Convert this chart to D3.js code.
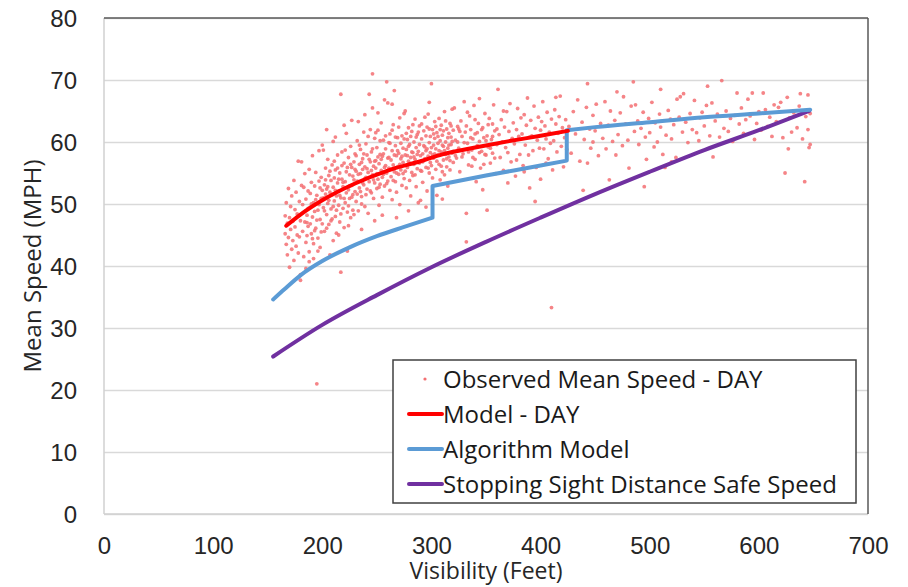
<!DOCTYPE html>
<html>
<head>
<meta charset="utf-8">
<script src="https://cdn.jsdelivr.net/npm/d3@7"></script>
<style>
  html, body { margin: 0; padding: 0; background: #fff; }
  svg { display: block; font-family: "Open Sans", Lato, sans-serif; }
</style>
</head>
<body>
<svg id="chart" width="908" height="587"></svg>
<script>
// ---------- data ----------
const xTicks = [0, 100, 200, 300, 400, 500, 600, 700];
const yTicks = [0, 10, 20, 30, 40, 50, 60, 70, 80];

const legendLabels = ["Observed Mean Speed - DAY", "Model - DAY", "Algorithm Model", "Stopping Sight Distance Safe Speed"];

// Model - DAY  [visibility ft, mph]
const modelDay = [[167,46.5],[180,48.3],[200,50.6],[230,53.3],[260,55.4],[290,56.9],[310,58.0],[340,59.1],[370,60.1],[400,61.0],[425,61.8]];

// Algorithm Model (three pieces joined by vertical jumps)
const algoSeg1 = [[155,34.6],[165,36.2],[180,38.5],[200,40.8],[225,43.0],[250,44.8],[275,46.3],[301,47.8]];
const algoSeg2 = [[301,52.9],[350,54.6],[400,56.2],[424,57.0]];
const algoSeg3 = [[424,61.9],[450,62.4],[500,63.2],[550,64.0],[600,64.6],[647,65.2]];

// Stopping Sight Distance Safe Speed
const ssdSpeed = [[155,25.4],[200,30.5],[250,35.3],[300,39.8],[350,43.9],[400,47.8],[450,51.6],[500,55.2],[550,58.7],[600,61.9],[646,65.0]];

// Observed Mean Speed - DAY
const observed = [
[166,45.2],[166,48.1],[167,43.5],[167,50.2],[168,41.8],[168,46.9],[169,44.6],[169,52.5],[170,47.8],[170,39.8],[171,45.9],[171,49.6],[172,42.7],[172,51.3],[173,44.1],[173,47.2],[174,53.8],[174,40.9],[175,46.3],[175,49.1],[176,43.2],[176,51.9],[177,45.0],[177,48.4],[178,56.9],[178,42.1],[179,50.4],[179,44.7],[180,47.3],[180,38.6],[181,56.8],[181,53.0],[180,37.7],
[182,45.6],[182,49.9],[183,41.5],[183,52.7],[184,47.1],[184,54.9],[185,43.8],[185,50.8],[186,48.2],[186,44.9],[187,52.1],[187,46.4],[188,42.3],[188,55.6],[189,49.5],[189,51.7],[190,45.2],[190,53.5],[191,47.9],[191,57.8],[192,50.2],[192,43.6],[193,52.9],[193,48.8],[194,46.1],[194,55.1],[195,51.4],[195,21.0],[196,49.0],[196,44.5],[197,53.7],[197,58.6],[198,47.5],[198,43.0],[199,50.9],[199,54.3],[200,52.2],[200,46.8],[200,59.5],[185,39.6],[188,40.7],[192,41.2],[196,42.4],
[201,58.7],[201,49.4],[202,53.1],[202,45.6],[203,51.6],[203,55.8],[204,48.3],[204,52.4],[205,50.1],[205,57.2],[206,54.6],[206,46.7],[207,41.8],[207,51.9],[208,53.8],[208,49.2],[209,56.3],[209,47.6],[210,52.7],[210,60.1],[211,50.5],[211,54.2],[212,48.0],[212,55.5],[213,51.3],[213,45.3],[214,53.4],[214,57.9],[215,49.8],[215,52.1],[216,55.0],[216,47.1],[217,67.7],[217,39.0],[217,51.0],[218,54.0],[218,58.4],[219,49.3],[219,52.8],[220,56.6],[220,46.2],[221,53.6],[221,50.2],[222,55.2],[222,61.4],[223,48.7],[223,42.4],[224,52.3],[224,57.5],[225,54.7],[225,50.9],[226,59.3],[226,47.8],[227,53.0],[227,55.9],[228,51.5],[228,49.0],[229,56.8],[229,53.9],[230,52.0],[230,58.1],[204,62.0],[212,60.8],[220,62.7],[227,63.5],[210,44.1],[215,45.0],[224,46.5],
[231,55.3],[231,50.4],[232,60.2],[232,53.7],[233,63.3],[233,48.9],[234,56.4],[234,52.6],[235,54.9],[235,58.8],[236,51.2],[236,50.0],[237,57.3],[237,55.6],[238,53.1],[238,61.6],[239,49.6],[239,56.0],[240,54.3],[240,59.7],[241,52.4],[241,57.9],[242,55.1],[242,48.5],[243,67.7],[243,53.6],[244,62.0],[244,56.8],[245,51.8],[245,58.4],[246,71.0],[246,54.7],[246,65.5],[247,56.1],[247,50.9],[248,60.6],[248,53.4],[249,57.0],[249,55.8],[250,52.5],[250,59.1],[251,54.0],[251,61.9],[252,56.5],[252,49.8],[253,58.0],[253,53.2],[254,55.4],[254,63.1],[255,51.1],[255,57.7],[256,54.8],[256,60.3],[257,66.8],[257,52.9],[258,56.2],[258,58.9],[259,69.7],[259,55.0],[260,66.3],[260,53.7],[260,57.4],[236,45.9],[248,47.3],[255,48.2],[239,64.4],[251,64.7],
[261,59.9],[261,55.8],[262,52.2],[262,61.3],[263,57.1],[263,54.4],[264,58.6],[264,50.7],[265,56.3],[265,62.8],[266,68.3],[266,55.2],[267,53.6],[267,59.4],[268,57.8],[268,51.9],[269,56.0],[269,60.7],[270,54.8],[270,58.2],[271,63.9],[271,49.9],[272,57.3],[272,55.5],[273,53.0],[273,61.0],[274,59.0],[274,56.7],[275,54.1],[275,64.6],[276,65.0],[276,57.9],[277,52.6],[277,58.8],[278,60.4],[278,55.9],[279,56.9],[279,62.3],[280,53.8],[280,59.6],[281,57.5],[281,51.3],[282,61.7],[282,55.1],[283,58.3],[283,54.6],[284,60.0],[284,56.4],[285,63.7],[285,57.2],[286,52.8],[286,59.1],[287,55.7],[287,61.2],[288,58.5],[288,50.2],[289,56.6],[289,62.6],[290,50.6],[290,57.8],[268,47.8],[279,48.9],[264,66.1],
[291,60.5],[291,55.3],[292,58.1],[292,53.5],[293,61.8],[293,57.0],[294,59.2],[294,64.0],[295,55.9],[295,58.6],[296,62.4],[296,52.1],[297,64.5],[297,57.7],[298,59.9],[298,55.0],[299,60.9],[299,58.3],[300,69.4],[300,56.2],[301,62.0],[301,54.2],[302,59.5],[302,57.4],[303,60.6],[303,63.3],[304,55.6],[304,58.9],[305,61.5],[305,51.4],[306,57.9],[306,59.8],[307,63.8],[307,56.4],[308,60.2],[308,53.9],[309,58.4],[309,62.7],[310,55.2],[310,61.1],[311,59.3],[311,57.1],[312,64.9],[312,54.7],[313,60.0],[313,58.0],[314,62.1],[314,56.0],[315,59.0],[315,52.9],[316,61.4],[316,57.6],[317,63.0],[317,55.5],[318,59.6],[318,60.8],[319,58.2],[319,65.3],[320,56.7],[320,61.9],[295,49.5],[310,50.8],[298,66.4],
[321,65.5],[322,60.3],[323,57.4],[324,62.5],[325,59.0],[326,55.2],[327,63.4],[328,60.9],[329,58.1],[330,66.5],[331,61.6],[332,43.9],[332,48.5],[333,59.8],[334,56.3],[335,64.2],[336,62.0],[337,58.7],[338,60.5],[339,65.9],[340,57.2],[340,61.3],[341,53.6],[342,59.4],[343,63.0],[344,60.1],[345,55.8],[346,58.5],[347,52.3],[347,62.3],[348,60.7],[349,64.6],[350,57.9],[351,49.0],[351,61.0],[352,59.2],[353,63.8],[354,56.6],[355,60.4],[356,58.2],[357,66.0],[358,61.8],[359,54.9],[360,59.6],[325,62.1],[333,64.8],[337,56.1],[344,67.0],[349,58.0],[356,62.9],
[361,68.5],[362,61.2],[363,57.5],[364,63.6],[365,60.0],[366,55.4],[367,62.4],[368,59.1],[369,64.9],[370,58.3],[371,61.7],[372,66.2],[373,56.8],[374,60.6],[375,63.1],[376,59.7],[377,54.5],[378,62.0],[379,65.4],[380,60.9],[381,58.0],[382,63.9],[383,61.3],[384,56.2],[385,64.4],[386,59.5],[387,62.7],[388,67.1],[389,57.9],[390,52.6],[390,60.8],[391,63.5],[392,61.0],[393,58.6],[394,65.8],[395,62.2],[396,55.9],[397,60.3],[398,64.0],[399,59.0],[400,54.0],[400,61.9],[401,63.3],[402,66.5],[403,58.9],[404,62.6],[405,60.5],[406,64.8],[407,57.3],[408,61.6],[409,59.8],[410,33.3],[410,63.7],[411,55.5],[412,60.2],[413,65.2],[414,62.9],[415,58.4],[416,61.4],[417,64.1],[418,67.4],[419,59.3],[420,62.3],[421,56.0],[422,60.7],[423,63.6],[424,58.8],[414,67.2],[370,53.4],[385,55.2],[405,56.6],[395,50.4],[366,65.0],[378,57.1],
[426,62.5],[428,58.2],[430,64.9],[432,61.3],[434,66.8],[436,56.9],[438,63.2],[439,52.2],[440,60.4],[442,65.6],[443,69.4],[443,56.6],[445,62.1],[446,59.0],[448,64.3],[450,61.8],[451,66.1],[453,57.8],[455,63.0],[457,60.6],[459,66.5],[460,58.9],[462,62.7],[464,65.0],[466,60.1],[468,63.5],[469,57.9],[471,61.2],[473,64.7],[475,59.4],[476,67.3],[478,62.9],[480,60.3],[481,55.8],[483,65.8],[485,69.7],[486,61.7],[487,66.0],[489,63.4],[490,59.6],[492,62.2],[494,64.8],[496,60.8],[497,57.2],[499,63.8],[500,61.5],[502,66.4],[504,59.2],[505,63.1],[507,60.0],[509,64.5],[510,62.4],[512,58.0],[514,55.9],[515,61.1],[517,65.1],[519,63.7],[520,60.5],[522,62.8],[524,57.5],[525,66.9],[527,64.0],[528,67.3],[530,61.6],[531,67.8],[533,63.2],[535,59.9],[537,64.6],[539,62.0],[463,53.9],[495,52.8],[520,56.8],[470,68.1],[510,68.5],[448,60.0],
[541,66.7],[543,61.5],[545,60.2],[546,63.9],[548,64.8],[550,62.6],[552,65.9],[553,69.0],[555,61.0],[557,66.3],[558,57.6],[560,63.4],[562,64.5],[564,60.8],[566,69.9],[568,62.2],[570,65.0],[572,61.7],[574,63.8],[576,60.1],[578,64.3],[580,67.9],[582,62.9],[584,65.5],[586,61.4],[588,63.6],[590,66.9],[592,64.2],[594,67.9],[596,60.4],[598,63.0],[600,64.9],[602,61.9],[604,67.9],[606,65.2],[608,62.5],[610,64.0],[612,60.9],[614,66.0],[616,63.3],[618,65.6],[620,66.4],[622,60.7],[624,55.0],[626,67.2],[627,58.9],[628,63.9],[630,61.6],[632,64.7],[635,62.3],[637,65.8],[638,67.8],[640,60.5],[642,53.6],[643,64.1],[645,67.6],[646,59.1],[647,59.6],[647,64.6],[645,62.0],
[186,47.0],[187,49.3],[189,46.8],[190,50.0],[191,44.4],[193,45.7],[194,50.7],[195,47.4],[197,49.9],[198,52.6],[199,45.5],[201,51.0],[202,48.9],[203,53.9],[204,46.1],[205,52.8],[206,50.6],[207,55.3],[208,47.3],[209,51.5],[210,49.6],[211,56.9],[212,52.2],[213,49.0],[214,55.8],[215,54.0],[216,51.4],[217,48.4],[218,56.2],[219,53.5],[220,50.9],[221,58.7],[222,51.8],[223,55.9],[224,49.7],[225,52.9],[226,56.4],[227,51.1],[228,54.5],[229,48.3],[230,55.6],[231,57.8],[232,51.6],[233,54.8],[234,59.5],[235,52.0],[236,56.7],[237,53.4],[238,58.1],[239,54.1],[240,51.5],[241,55.7],[242,60.9],[243,57.2],[244,52.1],[245,55.4],[246,58.9],[247,53.9],[248,56.9],[249,61.5],[250,54.9],[251,57.6],[252,52.7],[253,60.2],[254,57.2],[255,54.3],[256,58.1],[257,55.9],[258,61.0],[259,53.3],[261,57.5],[262,59.8],[263,55.6],[264,61.9],[265,53.8],[266,57.9],[267,60.8],[268,55.0],[269,58.6],[270,62.4],[271,56.4],[272,59.8],[273,57.7],[274,54.9],[275,60.5],[276,55.3],[277,61.4],[278,57.8],[279,59.3],[280,56.5],[281,60.9],[282,58.4],[283,62.8],[284,57.6],[285,54.7],[286,60.8],[287,58.0],[288,61.6],[289,59.6],[290,55.4],[291,62.9],[292,56.8],[293,59.4],[294,57.3],[295,61.0],[296,58.9],[297,55.8],[298,62.1],[299,56.7],[300,59.1],[301,57.9],[302,61.3],[303,58.1],[304,62.5],[305,56.9],[306,60.9],[307,58.6],[308,62.0],[309,56.1],[310,59.5],[311,61.8],[312,58.6],[313,63.4],[314,57.3],[315,60.7],[316,59.5],[317,57.0],[318,62.6],[319,60.1],[320,58.5],[322,57.8],[324,60.0],[326,61.7],[328,57.6],[330,59.9],[332,62.6],[334,58.4],[336,60.7],[338,57.5],[340,63.6],[342,61.5],[344,58.3],[346,62.0],[348,56.4],[350,60.2],[352,62.8],[354,59.0],[356,60.9],[358,57.4],[360,62.1]
];

// ---------- styles ----------
const colDot = "#f36f72", colRed = "#ff0000", colBlue = "#5b9bd5", colPurple = "#7030a0";

// ---------- layout ----------
const svg = d3.select("#chart");
const L = 104, R = 868, T = 18, B = 514;
const x = d3.scaleLinear().domain([0, 700]).range([L, R]);
const y = d3.scaleLinear().domain([0, 80]).range([B, T]);

// gridlines + y labels
const gy = svg.append("g").attr("transform", `translate(${L},0)`)
  .call(d3.axisLeft(y).tickValues(yTicks).tickSize(-(R - L)).tickPadding(27).tickFormat(d3.format("d")));
gy.select(".domain").remove();
gy.selectAll(".tick line").attr("stroke", "#d9d9d9").attr("stroke-width", 1.3);
gy.selectAll(".tick text").attr("fill", "#262626").style("font-size", "24px").attr("dy", "0.35em");

// x labels
const gx = svg.append("g").attr("transform", `translate(0,${B})`)
  .call(d3.axisBottom(x).tickValues(xTicks).tickSize(0).tickPadding(23).tickFormat(d3.format("d")));
gx.select(".domain").remove();
gx.selectAll(".tick text").attr("fill", "#262626").style("font-size", "24px");

// plot border: left/bottom light, top/right dark
svg.append("line").attr("x1", L).attr("x2", L).attr("y1", T).attr("y2", B).attr("stroke", "#d0d0d0").attr("stroke-width", 1.5);
svg.append("line").attr("x1", L).attr("x2", R).attr("y1", B).attr("y2", B).attr("stroke", "#d0d0d0").attr("stroke-width", 1.5);
svg.append("line").attr("x1", L).attr("x2", R).attr("y1", T).attr("y2", T).attr("stroke", "#595959").attr("stroke-width", 1.5);
svg.append("line").attr("x1", R).attr("x2", R).attr("y1", T).attr("y2", B).attr("stroke", "#595959").attr("stroke-width", 1.5);

// scatter
svg.append("g").selectAll("circle").data(observed).join("circle")
  .attr("cx", d => x(d[0])).attr("cy", d => y(d[1])).attr("r", 1.9)
  .attr("fill", colDot).attr("fill-opacity", 0.85);

const line = d3.line().x(d => x(d[0])).y(d => y(d[1])).curve(d3.curveMonotoneX);

// purple
svg.append("path").attr("d", line(ssdSpeed)).attr("fill", "none")
  .attr("stroke", colPurple).attr("stroke-width", 4).attr("stroke-linecap", "round");
// blue (joined segments)
const blueD = [algoSeg1, algoSeg2, algoSeg3].map((s, i) => i ? line(s).replace(/^M/, "L") : line(s)).join("");
svg.append("path").attr("d", blueD).attr("fill", "none")
  .attr("stroke", colBlue).attr("stroke-width", 4).attr("stroke-linecap", "round").attr("stroke-linejoin", "round");
// red
svg.append("path").attr("d", line(modelDay)).attr("fill", "none")
  .attr("stroke", colRed).attr("stroke-width", 4).attr("stroke-linecap", "round");

// legend
const lg = svg.append("g");
lg.append("rect").attr("x", 393).attr("y", 360).attr("width", 463).attr("height", 143)
  .attr("fill", "#fff").attr("stroke", "#404040").attr("stroke-width", 1.5);
const rowY = [379, 414, 449, 484];
const legendCols = [colDot, colRed, colBlue, colPurple];
legendLabels.forEach((t, i) => {
  if (i === 0) {
    lg.append("circle").attr("cx", 425).attr("cy", rowY[i]).attr("r", 1.6).attr("fill", colDot);
  } else {
    lg.append("line").attr("x1", 409).attr("x2", 442).attr("y1", rowY[i]).attr("y2", rowY[i])
      .attr("stroke", legendCols[i]).attr("stroke-width", 4).attr("stroke-linecap", "round");
  }
  lg.append("text").attr("x", 443).attr("y", rowY[i]).attr("dy", "0.36em")
    .attr("fill", "#1a1a1a").style("font-size", "24px").text(t);
});

// axis titles
svg.append("text").attr("x", 486).attr("y", 579).attr("text-anchor", "middle")
  .attr("fill", "#262626").style("font-size", "23px").text("Visibility (Feet)");
svg.append("text").attr("transform", "translate(41,266) rotate(-90)").attr("text-anchor", "middle")
  .attr("fill", "#262626").style("font-size", "24px").text("Mean Speed (MPH)");
</script>
</body>
</html>
